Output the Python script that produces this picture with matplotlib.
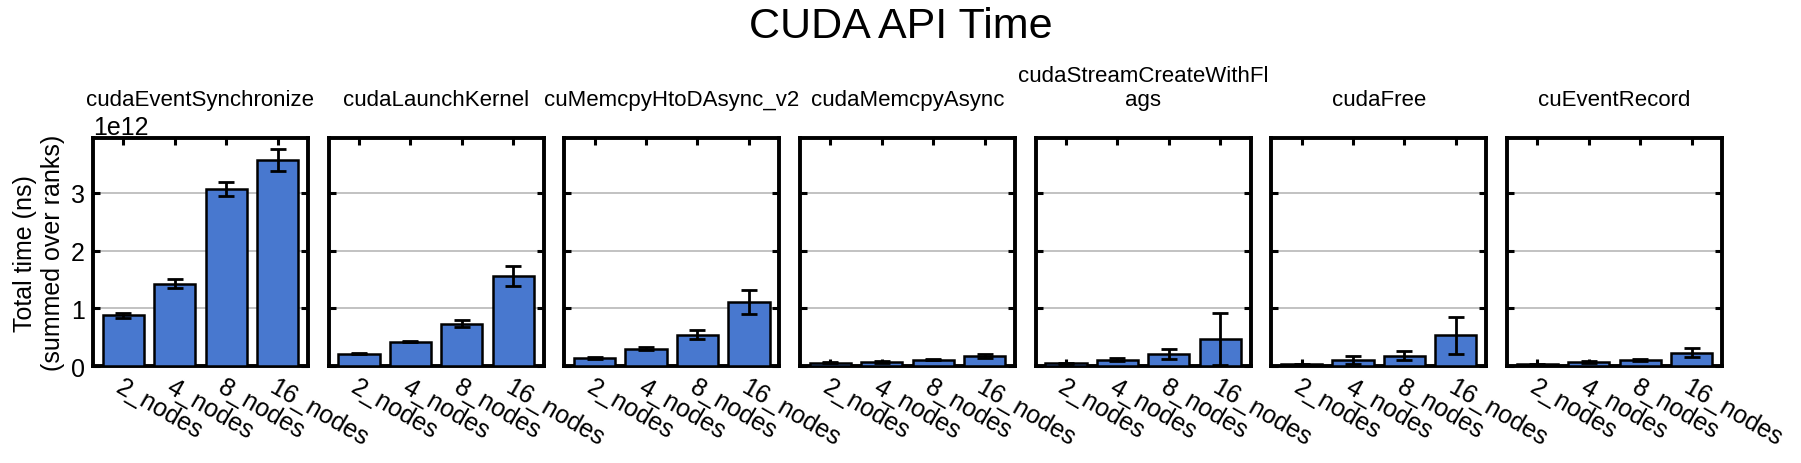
import textwrap
import matplotlib
matplotlib.use("Agg")
import matplotlib.pyplot as plt
import numpy as np

plt.rcParams['font.family'] = ['Liberation Sans', 'DejaVu Sans']

# categories and values (ns, summed over ranks)
nodes = ["2_nodes", "4_nodes", "8_nodes", "16_nodes"]
apis = ["cudaEventSynchronize", "cudaLaunchKernel", "cuMemcpyHtoDAsync_v2",
        "cudaMemcpyAsync", "cudaStreamCreateWithFlags", "cudaFree", "cuEventRecord"]

mean_e12 = [
    [0.88, 1.43, 3.07, 3.57],
    [0.21, 0.42, 0.73, 1.56],
    [0.14, 0.30, 0.54, 1.11],
    [0.06, 0.07, 0.11, 0.17],
    [0.05, 0.11, 0.21, 0.47],
    [0.03, 0.11, 0.18, 0.53],
    [0.03, 0.07, 0.11, 0.23],
]
err_e12 = [
    [0.04, 0.08, 0.12, 0.19],
    [0.01, 0.01, 0.06, 0.18],
    [0.01, 0.03, 0.08, 0.20],
    [0.01, 0.01, 0.01, 0.03],
    [0.01, 0.03, 0.09, 0.45],
    [0.01, 0.07, 0.08, 0.32],
    [0.01, 0.02, 0.02, 0.08],
]

fig, axes = plt.subplots(1, len(apis), figsize=(18.01, 4.64), dpi=100, sharey=True)
fig.subplots_adjust(left=0.0516, right=0.9561, bottom=0.209, top=0.700, wspace=0.096)

x = np.arange(len(nodes))
for i, ax in enumerate(axes):
    vals = np.array(mean_e12[i]) * 1e12
    errs = np.array(err_e12[i]) * 1e12
    ax.bar(x, vals, width=0.8, color="#4878cf", edgecolor="black", linewidth=1.8,
           zorder=3)
    ax.errorbar(x, vals, yerr=errs, fmt="none", ecolor="black", elinewidth=2,
                capsize=6, capthick=2, zorder=4)
    ax.set_title(textwrap.fill(apis[i], 22), fontsize=16, pad=24)
    ax.set_xticks(x)
    ax.set_xticklabels(nodes, rotation=-30, ha="left", va="top",
                       rotation_mode="anchor", fontsize=18)
    ax.yaxis.grid(True, color="#b8b8b8", linewidth=1.2, zorder=0)
    ax.set_axisbelow(True)
    ax.tick_params(direction="in", length=5, width=2.2, top=True, right=True,
                   labelsize=18, pad=6)
    for s in ax.spines.values():
        s.set_linewidth(2.8)

axes[0].set_yticks([0, 1e12, 2e12, 3e12])
axes[0].yaxis.get_offset_text().set_fontsize(18)
axes[0].set_ylabel("Total time (ns)\n(summed over ranks)", fontsize=18)
fig.suptitle("CUDA API Time", fontsize=31, y=0.985)

fig.savefig("out.png", dpi=100)
